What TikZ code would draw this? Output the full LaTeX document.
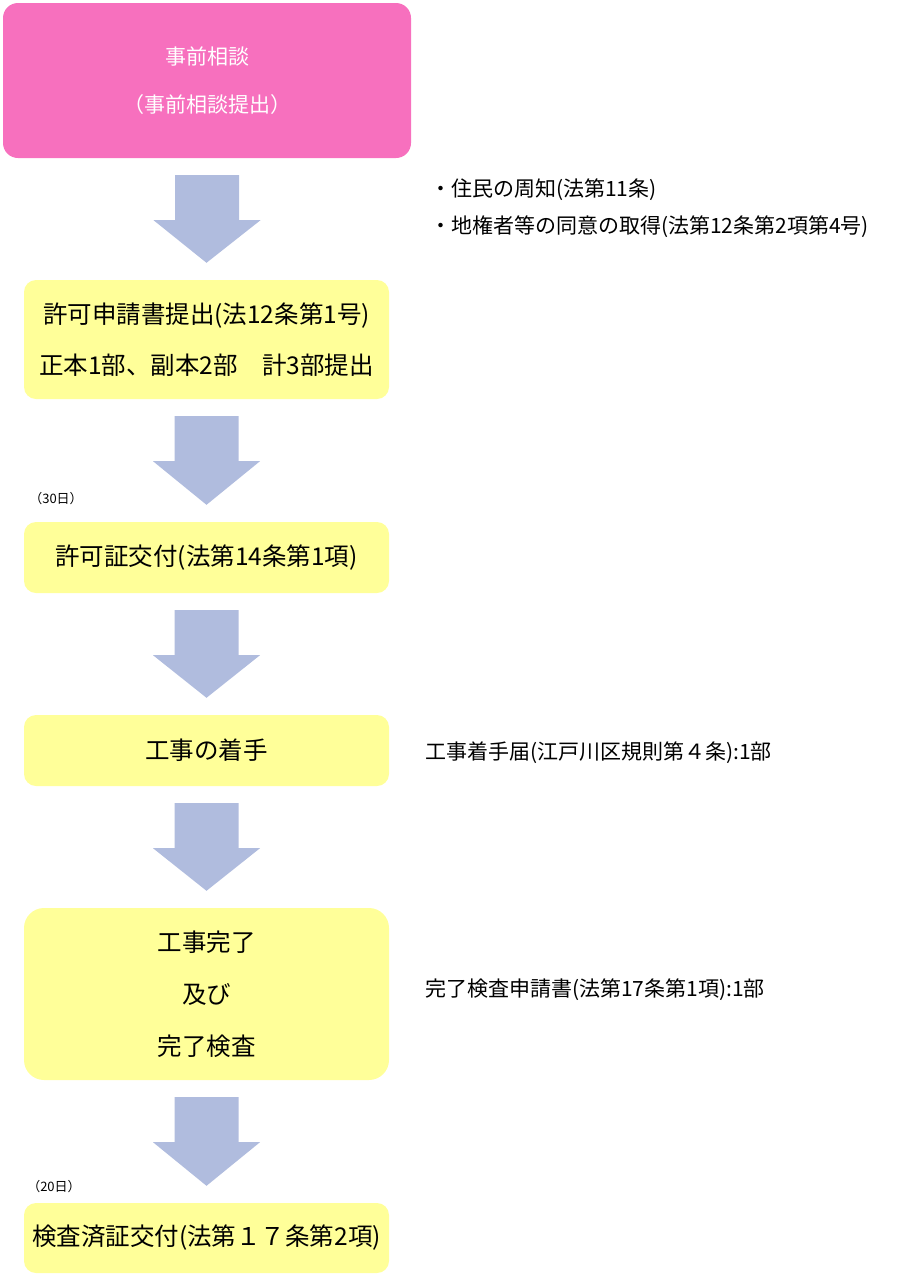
\documentclass[tikz,border=0pt]{standalone}
\usepackage{fontspec}
\setmainfont{Noto Sans CJK JP}
\usetikzlibrary{calc}
\definecolor{pinkfill}{RGB}{247,112,190}
\definecolor{yellowfill}{RGB}{255,255,153}
\definecolor{arrowfill}{RGB}{176,188,222}
\newcommand\blkarrow[2]{%
  \fill[arrowfill] ($(#1.south)+(-32,17)$) -- ($(#1.south)+(32,17)$) -- ($(#1.south)+(32,62)$)
   -- ($(#1.south)+(53.5,62)$) -- ($(#2.north)+(0,-17)$) -- ($(#1.south)+(-53.5,62)$)
   -- ($(#1.south)+(-32,62)$) -- cycle;}
\begin{document}
\begin{tikzpicture}[x=1pt,y=-1pt,
  pinkbox/.style={fill=pinkfill, rounded corners=15pt, inner sep=0pt, minimum width=408pt, align=center, text=white, font=\fontsize{21}{48}\selectfont},
  ybox/.style={fill=yellowfill, rounded corners=12pt, inner sep=0pt, minimum width=365pt, align=center, font=\fontsize{24.5}{51}\selectfont},
  note/.style={anchor=west, inner sep=0pt, font=\fontsize{21}{24}\selectfont},
  small/.style={inner sep=0pt, font=\fontsize{13}{15}\selectfont}]
\useasboundingbox (0,0) rectangle (915,1277);
\node[pinkbox, minimum height=155pt] (pink) at (207,80.5) {事前相談\\（事前相談提出）};
\node[ybox, minimum height=119pt] (b2) at (206.5,339.5) {許可申請書提出(法12条第1号)\\正本1部、副本2部　計3部提出};
\node[ybox, minimum height=71pt] (b3) at (206.5,557.5) {許可証交付(法第14条第1項)};
\node[ybox, minimum height=71pt] (b4) at (206.5,750.5) {工事の着手};
\node[ybox, minimum height=172pt, rounded corners=20pt, font=\fontsize{24.5}{52}\selectfont] (b5) at (206.5,994) {工事完了\\及び\\完了検査};
\node[ybox, minimum height=70pt] (b6) at (206.5,1238) {検査済証交付(法第１７条第2項)};
\blkarrow{pink}{b2}
\blkarrow{b2}{b3}
\blkarrow{b3}{b4}
\blkarrow{b4}{b5}
\blkarrow{b5}{b6}
\node[note] (n1) at (430,190) {・住民の周知(法第11条)};
\node[note] (n2) at (430,227) {・地権者等の同意の取得(法第12条第2項第4号)};
\node[note] (n3) at (425,753) {工事着手届(江戸川区規則第４条):1部};
\node[note] (n4) at (425,990) {完了検査申請書(法第17条第1項):1部};
\node[small] (d30) at (56,499) {（30日）};
\node[small] (d20) at (54,1187) {（20日）};
\end{tikzpicture}
\end{document}
